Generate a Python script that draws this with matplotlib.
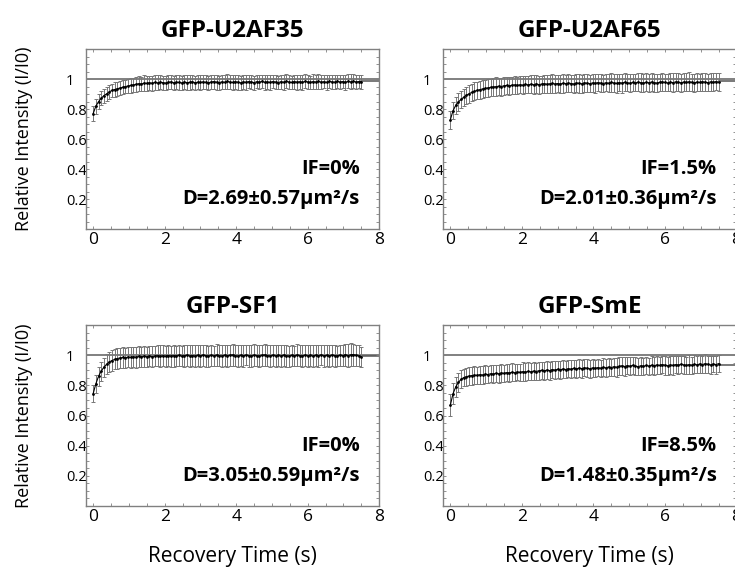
import numpy as np
import matplotlib.pyplot as plt

plt.rcParams['font.family'] = ['Open Sans', 'DejaVu Sans']

# recovery time (s)
time = [0.0, 0.075, 0.15, 0.225, 0.3, 0.375, 0.45, 0.525, 0.6, 0.675,
        0.75, 0.825, 0.9, 0.975, 1.05, 1.125, 1.2, 1.275, 1.35, 1.425,
        1.5, 1.575, 1.65, 1.725, 1.8, 1.875, 1.95, 2.025, 2.1, 2.175,
        2.25, 2.325, 2.4, 2.475, 2.55, 2.625, 2.7, 2.775, 2.85, 2.925,
        3.0, 3.075, 3.15, 3.225, 3.3, 3.375, 3.45, 3.525, 3.6, 3.675,
        3.75, 3.825, 3.9, 3.975, 4.05, 4.125, 4.2, 4.275, 4.35, 4.425,
        4.5, 4.575, 4.65, 4.725, 4.8, 4.875, 4.95, 5.025, 5.1, 5.175,
        5.25, 5.325, 5.4, 5.475, 5.55, 5.625, 5.7, 5.775, 5.85, 5.925,
        6.0, 6.075, 6.15, 6.225, 6.3, 6.375, 6.45, 6.525, 6.6, 6.675,
        6.75, 6.825, 6.9, 6.975, 7.05, 7.125, 7.2, 7.275, 7.35, 7.425,
        7.5]

u2af35 = [0.770, 0.820, 0.850, 0.872, 0.890, 0.902, 0.915, 0.925, 0.931, 0.936,
          0.941, 0.946, 0.950, 0.955, 0.958, 0.962, 0.965, 0.970, 0.967, 0.974,
          0.972, 0.976, 0.973, 0.978, 0.975, 0.980, 0.977, 0.974, 0.979, 0.982,
          0.976, 0.980, 0.978, 0.975, 0.981, 0.977, 0.979, 0.983, 0.976, 0.980,
          0.978, 0.982, 0.979, 0.976, 0.981, 0.984, 0.980, 0.977, 0.982, 0.979,
          0.985, 0.981, 0.978, 0.983, 0.980, 0.976, 0.982, 0.979, 0.984, 0.981,
          0.977, 0.983, 0.980, 0.985, 0.979, 0.982, 0.978, 0.984, 0.981, 0.977,
          0.983, 0.980, 0.986, 0.981, 0.978, 0.984, 0.980, 0.983, 0.979, 0.985,
          0.982, 0.978, 0.984, 0.981, 0.986, 0.980, 0.983, 0.979, 0.985, 0.982,
          0.980, 0.986, 0.981, 0.984, 0.979, 0.985, 0.982, 0.987, 0.981, 0.984,
          0.983]
u2af35_err = [0.052, 0.050, 0.048, 0.047, 0.046, 0.047, 0.045, 0.046, 0.047, 0.045,
              0.046, 0.048, 0.045, 0.047, 0.049, 0.046, 0.048, 0.050, 0.047, 0.051,
              0.048, 0.046, 0.049, 0.047, 0.050, 0.048, 0.046, 0.049, 0.047, 0.045,
              0.048, 0.046, 0.049, 0.047, 0.045, 0.048, 0.050, 0.046, 0.048, 0.045,
              0.047, 0.049, 0.046, 0.048, 0.045, 0.047, 0.050, 0.046, 0.048, 0.047,
              0.049, 0.045, 0.048, 0.046, 0.050, 0.047, 0.045, 0.048, 0.046, 0.049,
              0.047, 0.045, 0.048, 0.046, 0.049, 0.047, 0.050, 0.046, 0.048, 0.045,
              0.047, 0.049, 0.046, 0.048, 0.045, 0.047, 0.050, 0.046, 0.048, 0.047,
              0.049, 0.045, 0.048, 0.046, 0.050, 0.047, 0.045, 0.048, 0.046, 0.049,
              0.047, 0.045, 0.048, 0.046, 0.049, 0.047, 0.050, 0.046, 0.048, 0.045,
              0.047]

u2af65 = [0.730, 0.790, 0.825, 0.848, 0.865, 0.880, 0.893, 0.903, 0.912, 0.919,
          0.925, 0.930, 0.935, 0.938, 0.942, 0.945, 0.948, 0.950, 0.953, 0.951,
          0.956, 0.958, 0.955, 0.960, 0.962, 0.958, 0.963, 0.960, 0.965, 0.962,
          0.966, 0.963, 0.968, 0.964, 0.967, 0.970, 0.966, 0.969, 0.972, 0.968,
          0.971, 0.967, 0.973, 0.970, 0.974, 0.971, 0.968, 0.975, 0.972, 0.969,
          0.976, 0.973, 0.970, 0.975, 0.972, 0.977, 0.974, 0.971, 0.976, 0.973,
          0.978, 0.975, 0.972, 0.977, 0.974, 0.979, 0.976, 0.973, 0.978, 0.975,
          0.980, 0.977, 0.974, 0.979, 0.976, 0.981, 0.977, 0.974, 0.979, 0.982,
          0.978, 0.975, 0.980, 0.977, 0.982, 0.979, 0.976, 0.981, 0.978, 0.983,
          0.979, 0.976, 0.981, 0.978, 0.983, 0.980, 0.977, 0.982, 0.979, 0.984,
          0.980]
u2af65_err = [0.060, 0.059, 0.058, 0.057, 0.058, 0.056, 0.057, 0.059, 0.058, 0.060,
              0.057, 0.059, 0.061, 0.058, 0.060, 0.057, 0.059, 0.062, 0.058, 0.060,
              0.061, 0.058, 0.060, 0.057, 0.061, 0.059, 0.058, 0.062, 0.059, 0.057,
              0.060, 0.062, 0.058, 0.060, 0.057, 0.061, 0.059, 0.058, 0.062, 0.059,
              0.057, 0.060, 0.062, 0.058, 0.061, 0.059, 0.057, 0.060, 0.062, 0.058,
              0.061, 0.059, 0.057, 0.060, 0.062, 0.058, 0.061, 0.059, 0.057, 0.060,
              0.062, 0.058, 0.061, 0.059, 0.063, 0.060, 0.058, 0.061, 0.059, 0.057,
              0.060, 0.062, 0.058, 0.061, 0.059, 0.057, 0.060, 0.062, 0.058, 0.061,
              0.059, 0.057, 0.060, 0.062, 0.058, 0.061, 0.059, 0.057, 0.060, 0.062,
              0.058, 0.061, 0.059, 0.057, 0.060, 0.062, 0.058, 0.061, 0.059, 0.057,
              0.060]

sf1 = [0.745, 0.810, 0.860, 0.895, 0.920, 0.940, 0.955, 0.965, 0.972, 0.978,
       0.982, 0.985, 0.983, 0.988, 0.986, 0.990, 0.987, 0.992, 0.989, 0.993,
       0.990, 0.995, 0.991, 0.994, 0.997, 0.992, 0.996, 0.993, 0.998, 0.994,
       0.997, 0.995, 0.999, 0.994, 0.997, 1.000, 0.995, 0.998, 0.994, 0.999,
       0.996, 1.001, 0.997, 0.994, 0.999, 0.996, 1.001, 0.997, 0.995, 1.000,
       0.996, 0.999, 1.002, 0.997, 0.994, 0.999, 0.996, 1.001, 0.997, 0.995,
       1.000, 0.997, 0.994, 0.999, 1.002, 0.997, 0.995, 1.000, 0.996, 0.999,
       0.995, 1.001, 0.997, 0.994, 0.999, 0.996, 1.001, 0.998, 0.995, 1.000,
       0.996, 0.999, 0.994, 1.000, 0.997, 1.002, 0.996, 0.999, 0.995, 1.001,
       0.998, 0.995, 1.000, 0.997, 1.003, 0.998, 1.002, 1.004, 0.999, 0.996,
       0.988]
sf1_err = [0.055, 0.058, 0.061, 0.063, 0.064, 0.066, 0.065, 0.067, 0.066, 0.068,
           0.067, 0.069, 0.066, 0.068, 0.070, 0.067, 0.069, 0.071, 0.068, 0.070,
           0.067, 0.069, 0.072, 0.068, 0.070, 0.073, 0.069, 0.071, 0.068, 0.070,
           0.073, 0.069, 0.071, 0.068, 0.072, 0.070, 0.074, 0.069, 0.071, 0.068,
           0.072, 0.070, 0.073, 0.069, 0.071, 0.068, 0.072, 0.070, 0.073, 0.069,
           0.071, 0.068, 0.072, 0.070, 0.073, 0.069, 0.071, 0.068, 0.072, 0.070,
           0.073, 0.069, 0.071, 0.068, 0.072, 0.070, 0.073, 0.069, 0.071, 0.068,
           0.072, 0.070, 0.073, 0.069, 0.071, 0.068, 0.072, 0.070, 0.073, 0.069,
           0.071, 0.068, 0.072, 0.070, 0.073, 0.069, 0.071, 0.068, 0.072, 0.070,
           0.073, 0.069, 0.071, 0.068, 0.072, 0.074, 0.076, 0.073, 0.071, 0.069,
           0.066]

sme = [0.670, 0.745, 0.790, 0.820, 0.840, 0.852, 0.858, 0.862, 0.865, 0.868,
       0.866, 0.871, 0.869, 0.874, 0.872, 0.877, 0.875, 0.880, 0.877, 0.883,
       0.879, 0.885, 0.882, 0.887, 0.884, 0.889, 0.886, 0.891, 0.888, 0.893,
       0.890, 0.895, 0.892, 0.897, 0.900, 0.896, 0.902, 0.898, 0.905, 0.901,
       0.907, 0.903, 0.909, 0.905, 0.911, 0.907, 0.913, 0.909, 0.915, 0.911,
       0.917, 0.913, 0.910, 0.916, 0.912, 0.918, 0.914, 0.920, 0.916, 0.922,
       0.918, 0.924, 0.920, 0.926, 0.930, 0.925, 0.931, 0.927, 0.933, 0.928,
       0.924, 0.930, 0.926, 0.932, 0.928, 0.934, 0.930, 0.936, 0.932, 0.938,
       0.934, 0.930, 0.936, 0.932, 0.938, 0.934, 0.940, 0.936, 0.932, 0.938,
       0.934, 0.940, 0.936, 0.942, 0.938, 0.944, 0.940, 0.936, 0.942, 0.938,
       0.944]
sme_err = [0.075, 0.068, 0.065, 0.062, 0.060, 0.058, 0.059, 0.057, 0.060, 0.058,
           0.056, 0.059, 0.057, 0.060, 0.058, 0.056, 0.059, 0.057, 0.061, 0.058,
           0.056, 0.059, 0.057, 0.060, 0.058, 0.056, 0.059, 0.062, 0.058, 0.060,
           0.057, 0.059, 0.056, 0.060, 0.058, 0.061, 0.057, 0.059, 0.056, 0.060,
           0.058, 0.061, 0.057, 0.059, 0.056, 0.060, 0.058, 0.061, 0.057, 0.059,
           0.056, 0.060, 0.058, 0.061, 0.057, 0.059, 0.056, 0.060, 0.058, 0.061,
           0.057, 0.059, 0.063, 0.060, 0.058, 0.061, 0.057, 0.059, 0.056, 0.060,
           0.058, 0.061, 0.057, 0.059, 0.056, 0.060, 0.058, 0.061, 0.057, 0.059,
           0.062, 0.060, 0.058, 0.061, 0.057, 0.059, 0.056, 0.060, 0.058, 0.061,
           0.057, 0.059, 0.056, 0.060, 0.058, 0.061, 0.057, 0.059, 0.056, 0.060,
           0.058]

titles = ['GFP-U2AF35', 'GFP-U2AF65', 'GFP-SF1', 'GFP-SmE']
series = [u2af35, u2af65, sf1, sme]
errors = [u2af35_err, u2af65_err, sf1_err, sme_err]
if_labels = ['IF=0%', 'IF=1.5%', 'IF=0%', 'IF=8.5%']
d_labels = ['D=2.69\u00b10.57\u03bcm\u00b2/s', 'D=2.01\u00b10.36\u03bcm\u00b2/s',
            'D=3.05\u00b10.59\u03bcm\u00b2/s', 'D=1.48\u00b10.35\u03bcm\u00b2/s']
plateau = [0.99, 0.985, 0.995, 0.935]   # fitted end level
fit_x = [7.5, 8.0]
ytick_vals = [0.2, 0.4, 0.6, 0.8, 1.0]
ytick_text = ['0.2', '0.4', '0.6', '0.8', '1']
xtick_vals = [0, 2, 4, 6, 8]


def main():
    fig = plt.figure(figsize=(7.35, 5.69), dpi=100)
    # axes boxes in figure fraction (left, bottom, width, height)
    boxes = [(0.117, 0.5975, 0.399, 0.316), (0.603, 0.5975, 0.399, 0.316),
             (0.117, 0.1107, 0.399, 0.318), (0.603, 0.1107, 0.399, 0.318)]
    grey = '#808080'

    for i in range(4):
        ax = fig.add_axes(boxes[i])
        ax.axhline(1.0, color=grey, lw=1.4, zorder=1)
        ax.errorbar(time, series[i], yerr=errors[i], color='black', lw=0.8,
                    marker='.', ms=2.0, ecolor='#777777', elinewidth=0.7,
                    capsize=1.5, capthick=0.7, zorder=2)
        ax.plot(fit_x, [plateau[i], plateau[i]], color='#555555', lw=1.1, zorder=1)

        ax.set_xlim(-0.2, 8)
        ax.set_ylim(0, 1.2)
        ax.set_xticks(xtick_vals)
        ax.set_xticks(np.arange(0, 8.01, 0.5), minor=True)
        ax.set_yticks(ytick_vals)
        ax.set_yticklabels(ytick_text)
        ax.set_yticks(np.arange(0, 1.201, 0.05), minor=True)
        ax.tick_params(which='both', direction='in', top=True, right=True,
                       length=2.5, width=0.6, color=grey)
        ax.tick_params(axis='x', labelsize=12.5, pad=2)
        ax.tick_params(axis='y', labelsize=10.5, pad=14.5)
        for lab in ax.get_yticklabels():
            lab.set_ha('left')
        for s in ax.spines.values():
            s.set_color(grey)
            s.set_linewidth(1.0)

        ax.set_title(titles[i], fontsize=17.5, fontweight='bold', pad=9)
        ax.text(7.45, 0.4, if_labels[i], ha='right', va='center',
                fontsize=14.5, fontweight='bold')
        ax.text(7.45, 0.2, d_labels[i], ha='right', va='center',
                fontsize=14.5, fontweight='bold')

        if i % 2 == 0:
            ax.set_ylabel('Relative Intensity (I/I0)', fontsize=13)
            ax.yaxis.set_label_coords(-0.181, 0.5)
        if i >= 2:
            ax.set_xlabel('Recovery Time (s)', fontsize=15, labelpad=15)

    fig.savefig('out.png', dpi=100)


if __name__ == '__main__':
    main()
